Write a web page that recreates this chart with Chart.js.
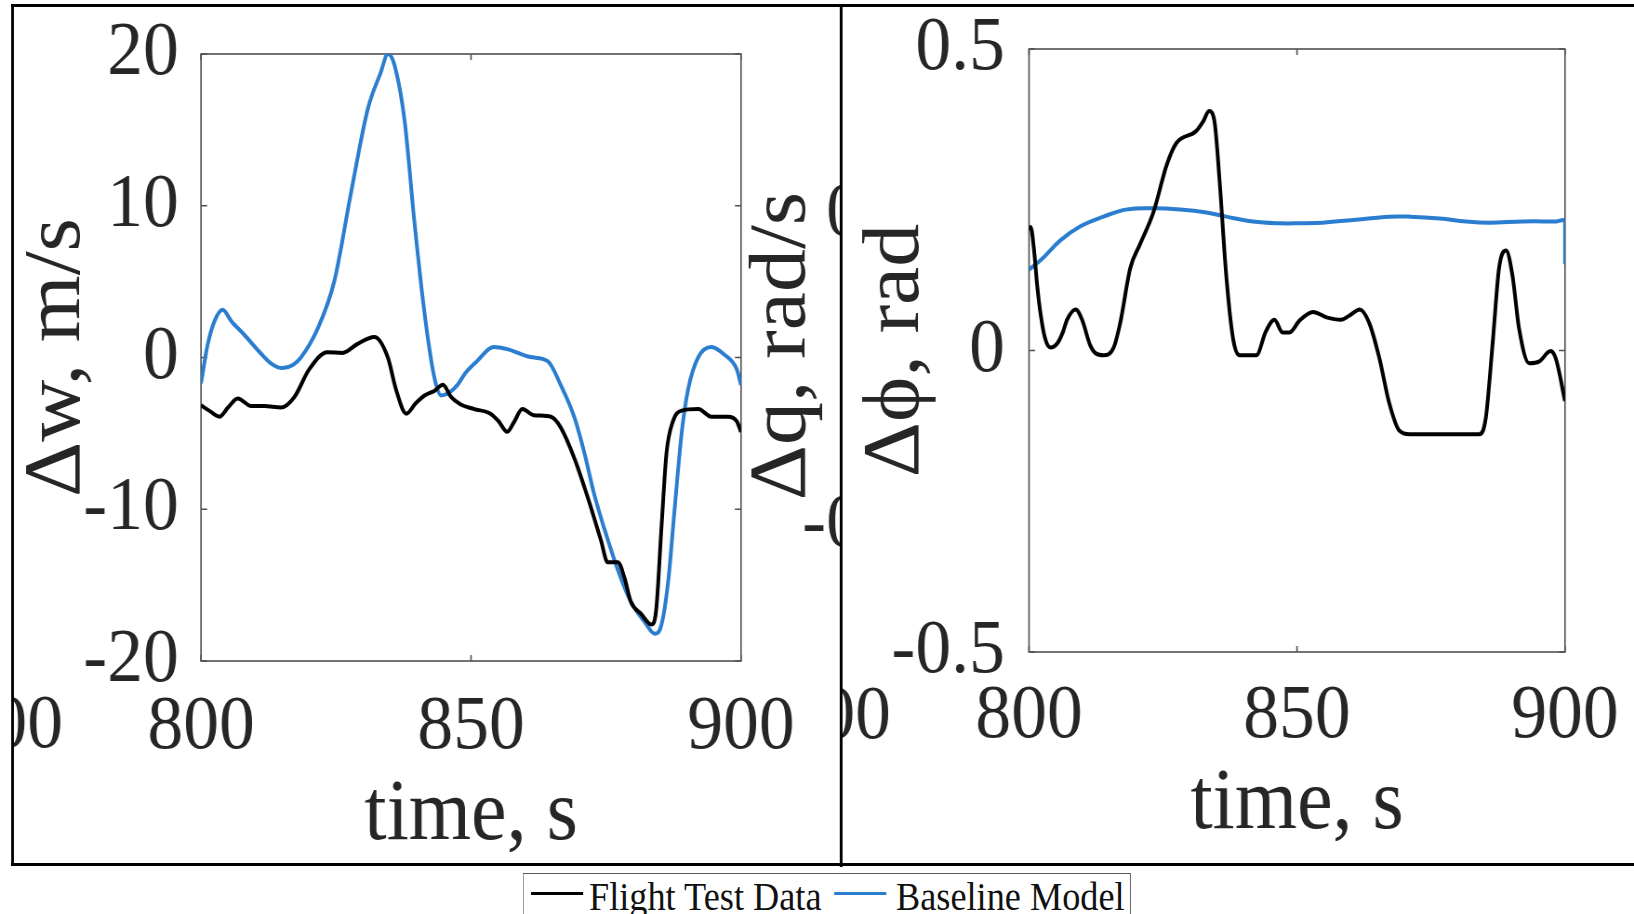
<!DOCTYPE html>
<html>
<head>
<meta charset="utf-8">
<script src="https://cdn.jsdelivr.net/npm/chart.js@4.4.1/dist/chart.umd.min.js"></script>
<style>
  html, body { margin: 0; padding: 0; background: #fff; overflow: hidden; }
  /* the whole figure is laid out on a wider sheet and squeezed horizontally */
  #sheet { position: absolute; left: 0; top: 0; width: 1757px; height: 914px;
           transform: scaleX(0.93); transform-origin: 0 0; }
  #sheet canvas { position: absolute; left: 0; top: 0; }
  .rule { position: absolute; background: #000; }
  #legendBox { position: absolute; border: 1.6px solid #5a5a5a; box-sizing: border-box; background: #fff; }
  .swatch { position: absolute; height: 3px; }
  .ltext { position: absolute; font-family: 'Liberation Serif', 'Times New Roman', serif;
           font-size: 39px; line-height: 39px; color: #111; white-space: nowrap; }
</style>
</head>
<body>
<div id="sheet">
  <canvas id="panelW" width="1757" height="914"></canvas>
  <canvas id="panelPhi" width="1757" height="914"></canvas>
</div>
<script>
// ---- data -------------------------------------------------------------
const seriesNames  = ['Flight Test Data', 'Baseline Model'];
const seriesColors = ['#000000', '#2a7dcf'];

const timeTicks = [800, 850, 900];

// vertical velocity perturbation, m/s
const tWFlight = [800, 801.5, 803.4, 805, 806.8, 809.3, 811.7, 814.8, 817.3, 820,
  823.4, 826.2, 829, 832.1, 834.6, 836.1, 838, 839.8, 841.4, 843.2,
  844.8, 846.3, 848.1, 850.6, 853.6, 855.1, 856.7, 857.9, 859.5, 861.6,
  864.8, 866.6, 869.1, 871.6, 874.1, 875.3, 877.2, 878.4, 879.6, 881.5,
  883.4, 884.3, 885.2, 886.2, 887.4, 889.0, 892.1, 894.5, 897.6, 899.2, 900];
const wFlight = [-3.15, -3.5, -3.9, -3.3, -2.7, -3.2, -3.2, -3.3, -2.6, -0.8,
  0.35, 0.3, 0.9, 1.35, 0.0, -2.1, -3.7, -3.0, -2.5, -2.2,
  -1.8, -2.6, -3.1, -3.4, -3.7, -4.2, -4.9, -4.3, -3.4, -3.8,
  -3.9, -4.6, -6.6, -9.2, -12.1, -13.5, -13.5, -14.5, -16.1, -16.9,
  -17.6, -16.6, -11.6, -6.3, -4.2, -3.5, -3.4, -3.9, -3.9, -4.2, -4.9];

const tWModel = [800, 801.2, 802.5, 804, 805.6, 808, 811, 813, 815.1, 817,
  818.5, 821.6, 824.7, 827.8, 830.9, 833.3, 834.6, 835.8, 837.7, 839.5,
  841.4, 843.2, 844.5, 846, 847.5, 849, 851.1, 854.2, 856.7, 861,
  864.2, 866.6, 869.1, 871, 872.8, 874.7, 877.2, 879.6, 882.1, 884,
  885.2, 886.5, 887.7, 889, 890.2, 892.1, 894.5, 897, 899.2, 900];
const wModel = [-1.7, 0.8, 2.4, 3.15, 2.4, 1.5, 0.3, -0.4, -0.7, -0.5,
  0.0, 1.9, 5.05, 10.9, 16.4, 18.8, 20, 19.3, 15.6, 9.0,
  2.9, -1.3, -2.5, -2.3, -1.8, -1.0, -0.24, 0.69, 0.55, 0.03,
  -0.24, -1.8, -3.9, -6.3, -9.0, -11.3, -14.0, -16.1, -17.4, -18.2,
  -17.7, -14.8, -10.0, -5.0, -2.1, 0.03, 0.69, 0.16, -0.77, -1.8];
const wTicks = [-20, -10, 0, 10, 20];

// roll angle perturbation, rad
const tPhiFlight = [800, 800.3, 800.9, 801.5, 802.2, 803, 804, 805.3, 806.3, 807.1,
  808.7, 809.9, 811.4, 812.5, 813.9, 815.8, 817, 818.9, 820.7, 823.2,
  825.7, 827.5, 831.2, 832.5, 833.6, 834.6, 835.5, 836.8, 838.1, 839.3,
  842.4, 844.2, 845.8, 847.3, 848.6, 850.5, 853, 855.5, 858.2, 859.8,
  861.7, 863.5, 865.4, 867.2, 869.1, 871, 876.6, 884, 885.2, 886.5,
  887.7, 889, 890.2, 891.4, 893.3, 895.2, 897.3, 898.3, 900];
const phiFlight = [0.2, 0.205, 0.17, 0.11, 0.058, 0.02, 0.005, 0.012, 0.03, 0.051,
  0.068, 0.051, 0.009, -0.005, -0.008, 0.005, 0.045, 0.137, 0.176, 0.229,
  0.308, 0.344, 0.364, 0.38, 0.397, 0.38, 0.288, 0.124, 0.018, -0.008,
  -0.008, 0.032, 0.051, 0.03, 0.03, 0.05, 0.064, 0.055, 0.051, 0.058,
  0.068, 0.045, -0.014, -0.087, -0.133, -0.139, -0.139, -0.139, -0.113, 0.012,
  0.137, 0.166, 0.124, 0.038, -0.021, -0.018, -0.001, -0.014, -0.084];

const tPhiModel = [800, 802.2, 805.9, 809.6, 813.9, 818.3, 823.2, 828.2, 833.1, 836.8,
  841.8, 846.7, 850.4, 854.8, 861, 867.2, 871, 876.6, 881.5, 885.9,
  892.1, 898.3, 900, 900];
const phiModel = [0.134, 0.150, 0.183, 0.206, 0.222, 0.234, 0.236, 0.234, 0.229, 0.222,
  0.214, 0.211, 0.211, 0.212, 0.217, 0.222, 0.222, 0.219, 0.214, 0.212,
  0.214, 0.214, 0.214, 0.143];
const phiTicks = [-0.5, 0, 0.5];

// ---- layout helpers -----------------------------------------------------
const SQUEEZE = 0.93;                 // horizontal scale applied to #sheet
const sx = v => v / SQUEEZE;          // page x -> sheet x
const SERIF = "'Liberation Serif', 'Times New Roman', serif";
const INK = '#262626';
const tickFont  = { family: SERIF, size: 77, lineHeight: 1.2 };
const titleFont = { family: SERIF, size: 86, lineHeight: 1 };

const pts = (xs, ys) => xs.map((x, i) => ({ x, y: ys[i] }));

// MATLAB-style box with inward tick marks
const axesBox = {
  id: 'axesBox',
  beforeDatasetsDraw(chart) {
    const { ctx, chartArea: a, scales: { x, y } } = chart;
    ctx.save();
    ctx.strokeStyle = '#505050';
    ctx.lineWidth = 1.6;
    ctx.strokeRect(a.left, a.top, a.right - a.left, a.bottom - a.top);
    const L = 6;
    ctx.beginPath();
    x.ticks.forEach(t => {
      const p = x.getPixelForValue(t.value);
      ctx.moveTo(p, a.top); ctx.lineTo(p, a.top + L);
      ctx.moveTo(p, a.bottom); ctx.lineTo(p, a.bottom - L);
    });
    y.ticks.forEach(t => {
      const p = y.getPixelForValue(t.value);
      ctx.moveTo(a.left, p); ctx.lineTo(a.left + L * 1.1, p);
      ctx.moveTo(a.right, p); ctx.lineTo(a.right - L * 1.1, p);
    });
    ctx.stroke();
    ctx.restore();
  }
};

// pieces of the neighbouring pitch-rate panel that show through the layout
const neighbourPieces = {
  id: 'neighbourPieces',
  afterDraw(chart) {
    const ctx = chart.ctx;
    const tickCss = `${tickFont.size}px ${SERIF}`;
    const titleCss = `${titleFont.size}px ${SERIF}`;
    ctx.save();
    ctx.fillStyle = INK;
    ctx.textBaseline = 'middle';

    // tail of a time label left of the first frame
    ctx.save();
    ctx.beginPath(); ctx.rect(sx(12.5), 0, 300, 914); ctx.clip();
    ctx.font = tickCss; ctx.textAlign = 'right';
    ctx.fillText('900', sx(63), 727);
    ctx.restore();

    // pitch-rate axis title and its clipped tick labels
    ctx.save();
    ctx.beginPath(); ctx.rect(sx(745), 0, sx(841) - sx(745), 914); ctx.clip();
    ctx.font = titleCss; ctx.textAlign = 'center';
    ctx.translate(842, 346); ctx.rotate(-Math.PI / 2);
    ctx.fillText('Δq, rad/s', 0, 0);
    ctx.restore();

    ctx.save();
    ctx.beginPath(); ctx.rect(sx(745), 0, sx(841) - sx(745), 914); ctx.clip();
    ctx.font = tickCss; ctx.textAlign = 'right';
    ctx.fillText('0.1', 984.4, 215);
    ctx.fillText('-0.1', 984.4, 526);
    ctx.restore();

    // tail of the pitch-rate panel's last time label
    ctx.save();
    ctx.beginPath(); ctx.rect(sx(841), 0, 200, 914); ctx.clip();
    ctx.font = tickCss; ctx.textAlign = 'right';
    ctx.fillText('900', sx(891), 717.5);
    ctx.restore();

    ctx.restore();
  }
};

function makePanel(id, p) {
  return new Chart(document.getElementById(id), {
    type: 'line',
    data: {
      datasets: [
        { label: seriesNames[0], data: pts(p.tFlight, p.flight), borderColor: seriesColors[0],
          borderWidth: 4, pointRadius: 0, cubicInterpolationMode: 'monotone', order: 1 },
        { label: seriesNames[1], data: pts(p.tModel, p.model), borderColor: seriesColors[1],
          borderWidth: 4, pointRadius: 0, tension: p.modelTension, order: 2,
          cubicInterpolationMode: p.modelTension ? 'default' : 'monotone' }
      ]
    },
    options: {
      responsive: false,
      animation: false,
      devicePixelRatio: 1,
      events: [],
      layout: { padding: { left: p.padLeft, right: 1757 - p.areaRight, top: p.areaTop, bottom: 0 } },
      plugins: { legend: { display: false }, tooltip: { enabled: false } },
      scales: {
        x: {
          type: 'linear', min: 800, max: 900,
          afterBuildTicks: s => { s.ticks = timeTicks.map(v => ({ value: v })); },
          ticks: { font: tickFont, color: INK, padding: p.xTickPad, maxRotation: 0, autoSkip: false },
          grid: { display: false, drawTicks: false },
          border: { display: false },
          title: { display: true, text: 'time, s', font: titleFont, color: INK,
                   padding: { top: 0, bottom: p.xTitlePad } },
          afterFit: s => {
            s.height = 914 - p.areaBottom;
            s.paddingLeft = 0; s.paddingRight = 0;
          }
        },
        y: {
          type: 'linear', min: p.yTicks[0], max: p.yTicks[p.yTicks.length - 1],
          afterBuildTicks: s => { s.ticks = p.yTicks.map(v => ({ value: v })); },
          ticks: { font: tickFont, color: INK, padding: p.yTickPad, autoSkip: false },
          grid: { display: false, drawTicks: false },
          border: { display: false },
          title: { display: true, text: p.yTitle, font: titleFont, color: INK,
                   padding: { top: p.yTitlePad, bottom: 0 } },
          afterFit: s => {
            s.width = p.areaLeft - p.padLeft;
            s.paddingTop = 0; s.paddingBottom = 0;
          }
        }
      }
    },
    plugins: p.extraPlugins ? [axesBox, ...p.extraPlugins] : [axesBox]
  });
}

makePanel('panelW', {
  tFlight: tWFlight, flight: wFlight, tModel: tWModel, model: wModel,
  yTicks: wTicks, yTitle: 'Δw, m/s', modelTension: 0,
  padLeft: 0, areaLeft: sx(201), areaRight: sx(741), areaTop: 54, areaBottom: 661,
  xTickPad: 21, xTitlePad: 55, yTickPad: 24, yTitlePad: 19,
  extraPlugins: [neighbourPieces]
});

makePanel('panelPhi', {
  tFlight: tPhiFlight, flight: phiFlight, tModel: tPhiModel, model: phiModel,
  yTicks: phiTicks, yTitle: 'Δϕ, rad', modelTension: 0.4,
  padLeft: 900, areaLeft: sx(1029), areaRight: sx(1565), areaTop: 49, areaBottom: 652,
  xTickPad: 19, xTitlePad: 66, yTickPad: 26, yTitlePad: 21.5
});

// ---- outer frame and shared legend -------------------------------------
const sheet = document.getElementById('sheet');
function rule(left, top, width, height) {
  const d = document.createElement('div');
  d.className = 'rule';
  Object.assign(d.style, { left: left + 'px', top: top + 'px', width: width + 'px', height: height + 'px' });
  sheet.appendChild(d);
}
rule(sx(11.3), 4, 1800, 2.5);            // top
rule(sx(11.3), 863, 1800, 2.5);          // bottom
rule(sx(11.3), 4, 2.5, 861.5);           // left
rule(sx(840), 4, 2.3, 863);              // divider between panels

const box = document.createElement('div');
box.id = 'legendBox';
Object.assign(box.style, { left: sx(523) + 'px', top: '873px', width: (sx(1131) - sx(523)) + 'px', height: '60px' });
sheet.appendChild(box);

const swatchX = [sx(531), sx(834)];
const textX = [sx(589), sx(896)];
seriesNames.forEach((name, i) => {
  const s = document.createElement('div');
  s.className = 'swatch';
  Object.assign(s.style, { left: swatchX[i] + 'px', top: '891.5px', width: sx(52) + 'px', background: seriesColors[i] });
  sheet.appendChild(s);
  const t = document.createElement('div');
  t.className = 'ltext';
  t.textContent = name;
  Object.assign(t.style, { left: textX[i] + 'px', top: '876.5px' });
  sheet.appendChild(t);
});
</script>
</body>
</html>
